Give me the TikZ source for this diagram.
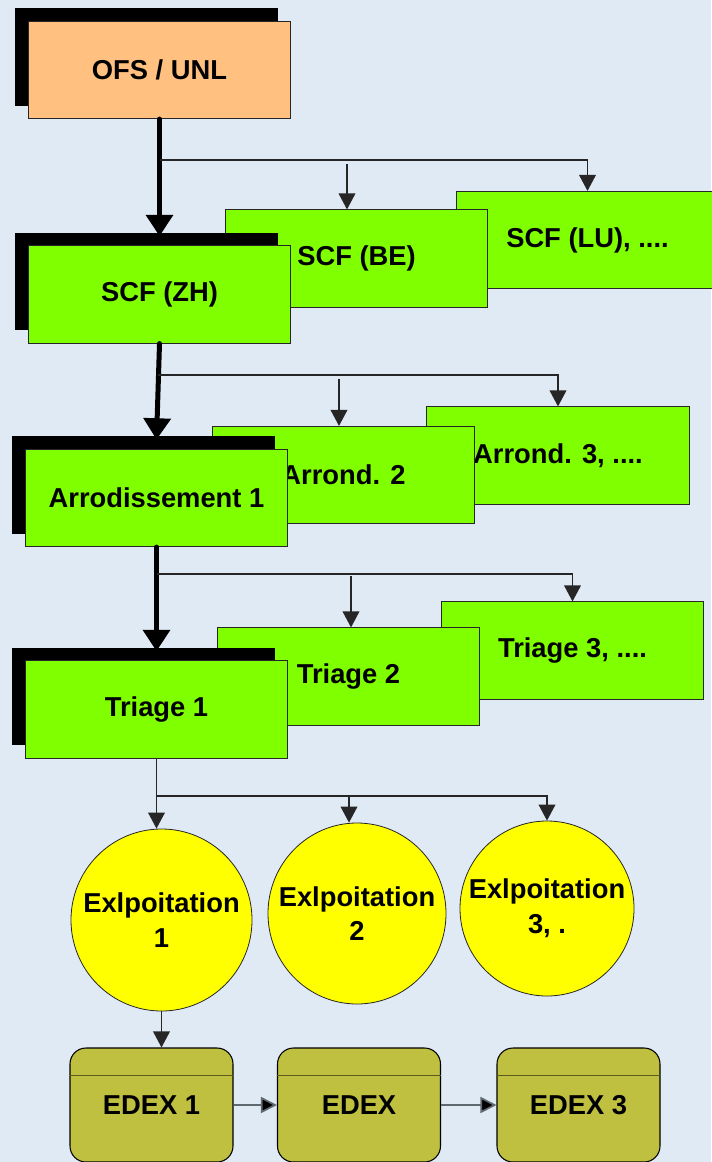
\documentclass[tikz,border=0pt]{standalone}
\usepackage{fontspec}
\setmainfont{Liberation Sans}
\usepackage{xcolor}
\usetikzlibrary{arrows.meta}
\usetikzlibrary{shadows}
\usetikzlibrary{shapes.geometric}
\definecolor{bgblue}{RGB}{224,234,245}
\definecolor{ofsorange}{RGB}{255,192,128}
\definecolor{scfgreen}{RGB}{128,255,0}
\definecolor{exyellow}{RGB}{255,255,0}
\definecolor{edexolive}{RGB}{191,191,64}
\definecolor{edexline}{RGB}{90,90,30}
\definecolor{linegray}{RGB}{96,104,112}

\begin{document}
\begin{tikzpicture}[x=0.75pt,y=-0.75pt,
    every node/.style={font=\fontsize{20.5}{26}\selectfont\bfseries},
    box/.style={draw=black!85,line width=0.6pt,fill=scfgreen,inner sep=0pt,
        minimum width=197pt,minimum height=73pt},
    topbox/.style={box,drop shadow={shadow xshift=-9.75pt,shadow yshift=9.75pt,
        fill=black,opacity=1}},
    expl/.style={ellipse,draw=black!85,line width=0.6pt,fill=exyellow,inner sep=0pt},
    edex/.style={draw=black,line width=0.8pt,fill=edexolive,rounded corners=12pt,
        inner sep=0pt,minimum width=122.25pt,minimum height=85.5pt},
    divline/.style={draw=edexline,line width=1pt},
    thickarr/.style={line width=3.75pt,line cap=round,-{Triangle[length=16pt,width=20pt]}},
    thinarr/.style={draw=black!85,line width=1.1pt,-{Triangle[length=12pt,width=12.5pt]}},
    edexarr/.style={draw=linegray,line width=1.3pt,-{Triangle[length=12pt,width=12pt,fill=black]}}]
                \useasboundingbox (0,0) rectangle (711,1162);
                \fill[bgblue] (0,0) rectangle (711,1162);

                % top level
                \node[topbox,fill=ofsorange] (ofs) at (159.5,70) {OFS / UNL};

                % cantons
                \node[box] (lu) at (587.5,240) {SCF (LU), ....};
                \node[box] (be) at (356.5,258.5) {SCF (BE)};
                \node[topbox] (zh) at (159.5,294.5) {SCF (ZH)};

                % arrondissements
                \node[box] (arr3) at (558,455.5) {Arrond. 3, ....};
                \node[box] (arr2) at (343.5,475) {Arrond. 2};
                \node[topbox] (arr1) at (156.5,498) {Arrodissement 1};

                % triages
                \node[box] (tri3) at (572.5,650.5) {Triage 3, ....};
                \node[box] (tri2) at (348.5,676.5) {Triage 2};
                \node[topbox] (tri1) at (156.5,709.5) {Triage 1};

                % exploitations
                \node[expl,minimum width=135.75pt,minimum height=136.5pt,
                    label={[align=center]center:Exlpoitation\\1}] (ex1) at (161.5,920) {};
                \node[expl,minimum width=133.5pt,minimum height=135.75pt,
                    label={[align=center]center:Exlpoitation\\2}] (ex2) at (357,913.5) {};
                \node[expl,minimum width=130.5pt,minimum height=131.25pt,
                    label={[align=center]center:Exlpoitation\\3, .}] (ex3) at (547,908.5) {};

                % EDEX
                \node[edex] (e1) at (151.5,1105) {\raisebox{-2pt}{EDEX 1}};
                \node[edex] (e2) at (359,1105) {\raisebox{-2pt}{EDEX}};
                \node[edex] (e3) at (578.5,1105) {\raisebox{-2pt}{EDEX 3}};
                \draw[divline] ([yshift=-21pt]e1.north west) -- ([yshift=-21pt]e1.north east);
                \draw[divline] ([yshift=-21pt]e2.north west) -- ([yshift=-21pt]e2.north east);
                \draw[divline] ([yshift=-21pt]e3.north west) -- ([yshift=-21pt]e3.north east);

                % connectors
                \coordinate (b1) at (159.5,160);
                \coordinate (b1be) at (347,164);
                \draw[thickarr] (ofs.south) -- ([yshift=7pt]zh.north);
                \draw[thinarr] (b1) -| (lu.north);
                \draw[thinarr] (b1be) -- (b1be |- be.north);

                \coordinate (b2) at (158,375);
                \coordinate (b2arr) at (339,379);
                \draw[thickarr] (zh.south) -- ([yshift=7pt]arr1.north);
                \draw[thinarr] (b2) -| (arr3.north);
                \draw[thinarr] (b2arr) -- (b2arr |- arr2.north);

                \coordinate (b3) at (156.5,574);
                \coordinate (b3tri) at (351,576);
                \draw[thickarr] (arr1.south) -- ([yshift=7pt]tri1.north);
                \draw[thinarr] (b3) -| (tri3.north);
                \draw[thinarr] (b3tri) -- (b3tri |- tri2.north);

                \coordinate (b4) at (156.5,796);
                \coordinate (b4ex) at (349,796);
                \draw[thinarr] (tri1.south) -- (tri1.south |- ex1.north);
                \draw[thinarr] (b4) -| (ex3.north);
                \draw[thinarr] (b4ex) -- (b4ex |- ex2.north);

                \draw[thinarr] (ex1.south) -- (ex1.south |- e1.north);
                \draw[edexarr] (e1) -- (e2);
                \draw[edexarr] (e2) -- (e3);
\end{tikzpicture}
\end{document}
